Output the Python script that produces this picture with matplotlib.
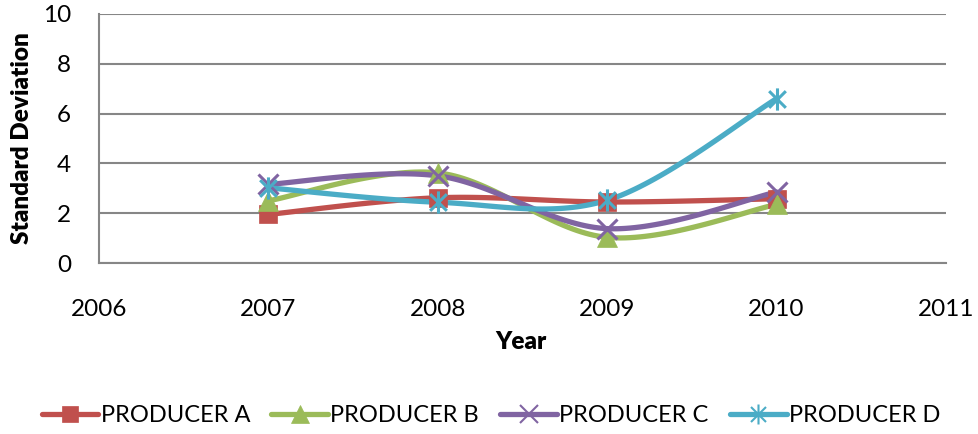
import numpy as np
import matplotlib
matplotlib.use("Agg")
import matplotlib.pyplot as plt
from matplotlib.path import Path

years = [2007, 2008, 2009, 2010]
producer_a = [1.95, 2.62, 2.45, 2.58]
producer_b = [2.5, 3.62, 1.03, 2.35]
producer_c = [3.16, 3.5, 1.38, 2.85]
producer_d = [3.02, 2.44, 2.52, 6.6]
series_names = ["PRODUCER A", "PRODUCER B", "PRODUCER C", "PRODUCER D"]
colors = ["#C0504D", "#9BBB59", "#8064A2", "#4BACC6"]
x_ticks = [2006, 2007, 2008, 2009, 2010, 2011]
y_ticks = [0, 2, 4, 6, 8, 10]

plt.rcParams['font.family'] = ['Lato', 'DejaVu Sans']

def smooth(xs, ys, n=40):
    P = np.column_stack([xs, ys]).astype(float)
    out = []
    m = len(P)
    for i in range(m - 1):
        p0 = P[i]
        p3 = P[i + 1]
        pm = P[i - 1] if i > 0 else P[i]
        pp = P[i + 2] if i + 2 < m else P[i + 1]
        c1 = p0 + (p3 - pm) / 6.0
        c2 = p3 - (pp - p0) / 6.0
        t = np.linspace(0, 1, n)[:, None]
        seg = ((1 - t) ** 3) * p0 + 3 * ((1 - t) ** 2) * t * c1 + 3 * (1 - t) * t ** 2 * c2 + t ** 3 * p3
        out.append(seg if i == 0 else seg[1:])
    s = np.vstack(out)
    return s[:, 0], s[:, 1]

star = Path([(0, -1), (0, 1), (-0.75, -0.75), (0.75, 0.75), (-0.75, 0.75), (0.75, -0.75)],
            [Path.MOVETO, Path.LINETO, Path.MOVETO, Path.LINETO, Path.MOVETO, Path.LINETO])
markers = ['s', '^', 'x', star]
msizes = [13, 14, 14, 16]

fig = plt.figure(figsize=(9.79, 4.34), dpi=100)
ax = fig.add_axes([99 / 979, 1 - 263 / 434, (946 - 99) / 979, (263 - 14) / 434])

data = [producer_a, producer_b, producer_c, producer_d]
handles = []
for name, vals, col, mk, ms in zip(series_names, data, colors, markers, msizes):
    sx, sy = smooth(years, vals)
    ax.plot(sx, sy, color=col, lw=3.8, solid_capstyle='round', zorder=3)
    filled = mk in ('s', '^')
    ax.plot(years, vals, linestyle='none', marker=mk, markersize=ms,
            markerfacecolor=col, markeredgecolor=col, markeredgewidth=2.2 if not filled else 0.5, zorder=4)
    h, = ax.plot([], [], color=col, lw=3.8, marker=mk, markersize=ms * 0.9,
                 markerfacecolor=col, markeredgecolor=col,
                 markeredgewidth=1.5 if not filled else 0.5, solid_capstyle='round')
    handles.append(h)

ax.set_xlim(2006, 2011)
ax.set_ylim(0, 10)
ax.set_xticks(x_ticks)
ax.set_yticks(y_ticks)
ax.set_xticklabels([str(v) for v in x_ticks])
ax.set_yticklabels([str(v) for v in y_ticks])
ax.tick_params(axis='both', length=0, labelsize=17.5, colors='black')
ax.tick_params(axis='x', pad=26)
ax.tick_params(axis='y', pad=20)
ax.grid(axis='y', color='#868686', lw=1.5)
ax.set_axisbelow(True)
for s in ['top', 'right']:
    ax.spines[s].set_visible(False)
for s in ['left', 'bottom']:
    ax.spines[s].set_color('#868686')
    ax.spines[s].set_linewidth(1.5)

fig.text(521 / 979, 1 - 342 / 434, "Year", ha='center', va='center', fontsize=17.5, fontweight='heavy')
fig.text(22 / 979, 1 - 138 / 434, "Standard Deviation", ha='center', va='center', rotation=90,
         fontsize=17.5, fontweight='heavy')

fig.legend(handles, series_names, loc='center', bbox_to_anchor=(491 / 979, 1 - 416 / 434),
           ncol=4, frameon=False, fontsize=17, handlelength=2.4, handletextpad=0.1,
           columnspacing=0.9, borderpad=0, borderaxespad=0)

fig.savefig("out.png", dpi=100)
